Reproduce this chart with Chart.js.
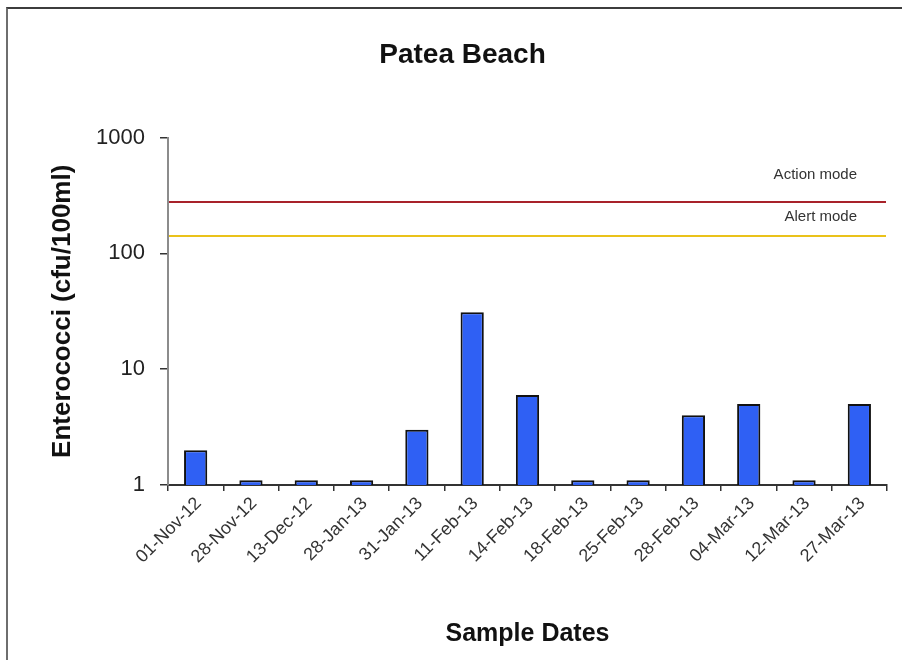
<!DOCTYPE html>
<html>
<head>
<meta charset="utf-8">
<title>Patea Beach</title>
<script src="https://cdn.jsdelivr.net/npm/chart.js@4.4.1/dist/chart.umd.min.js"></script>
<style>
    html, body { margin: 0; padding: 0; background: #fff; }
    #wrap { position: relative; width: 902px; height: 660px; }
    #frame {
        position: absolute; left: 6px; top: 7px; right: 0; bottom: 0;
        border-top: 2px solid #3c3c3c; border-left: 2px solid #6e6e6e;
        pointer-events: none;
    }
    canvas { position: absolute; left: 0; top: 0; }
</style>
</head>
<body>
<div id="wrap">
    <canvas id="beach-chart" width="902" height="660"></canvas>
    <div id="frame"></div>
</div>
<script>
// sample dates and enterococci counts (cfu/100ml)
const sampleDates = ['01-Nov-12', '28-Nov-12', '13-Dec-12', '28-Jan-13', '31-Jan-13', '11-Feb-13', '14-Feb-13',
    '18-Feb-13', '25-Feb-13', '28-Feb-13', '04-Mar-13', '12-Mar-13', '27-Mar-13'];
const enterococci = [2, 1.1, 1.1, 1.1, 3, 31, 6, 1.1, 1.1, 4, 5, 1.1, 5];
const yTicks = [1, 10, 100, 1000];

// guideline levels
const modeLevels = [280, 140];
const modeLabels = ['Action mode', 'Alert mode'];
const modeColors = ['#a8222a', '#eac21a'];

const FONT = "'Liberation Sans', Arial, sans-serif";

// draws the action / alert lines across the plot, label sits above each line
const labelLift = [27, 19];
const modeLines = {
    id: 'modeLines',
    afterDatasetsDraw(chart) {
        const { ctx, chartArea, scales: { y } } = chart;
        ctx.save();
        modeLevels.forEach((level, i) => {
            const py = Math.round(y.getPixelForValue(level));
            ctx.strokeStyle = modeColors[i];
            ctx.lineWidth = 2;
            ctx.beginPath();
            ctx.moveTo(chartArea.left + 1, py);
            ctx.lineTo(chartArea.right - 1, py);
            ctx.stroke();

            ctx.fillStyle = '#333';
            ctx.font = '15px ' + FONT;
            ctx.textAlign = 'right';
            ctx.textBaseline = 'middle';
            ctx.fillText(modeLabels[i], chartArea.right - 30, py - labelLift[i]);
        });
        ctx.restore();
    }
};

const ctx = document.getElementById('beach-chart');
new Chart(ctx, {
    type: 'bar',
    data: {
        labels: sampleDates,
        datasets: [{
            label: 'Enterococci',
            data: enterococci,
            backgroundColor: '#2f60f4',
            borderColor: '#111',
            borderWidth: 2,
            borderSkipped: 'bottom',
            barPercentage: 0.42,
            categoryPercentage: 1
        }]
    },
    options: {
        responsive: false,
        animation: false,
        layout: { padding: { left: 38, right: 15, top: 0, bottom: 0 } },
        plugins: {
            legend: { display: false },
            tooltip: { enabled: false },
            title: {
                display: true,
                text: 'Patea Beach',
                color: '#111',
                font: { family: FONT, size: 28, weight: 'bold' },
                padding: { top: 38, bottom: 66 }
            }
        },
        scales: {
            x: {
                grid: { drawOnChartArea: false, offset: true, tickLength: 6, color: '#333', lineWidth: 1.5 },
                border: { color: '#333', width: 2 },
                ticks: {
                    autoSkip: false,
                    minRotation: 45,
                    maxRotation: 45,
                    padding: 2,
                    labelOffset: 3,
                    color: '#333',
                    font: { family: FONT, size: 18 }
                },
                title: {
                    display: true,
                    text: 'Sample Dates',
                    color: '#111',
                    font: { family: FONT, size: 25, weight: 'bold' },
                    padding: { top: 0, bottom: 11 }
                },
                afterFit(scale) { scale.height = 175; }
            },
            y: {
                type: 'logarithmic',
                min: 1,
                max: 1000,
                grid: { drawOnChartArea: false, tickLength: 8, color: '#333', lineWidth: 1.5 },
                border: { color: '#8c8c8c', width: 2 },
                afterBuildTicks(scale) {
                    scale.ticks = yTicks.map(v => ({ value: v }));
                },
                ticks: {
                    padding: 15,
                    color: '#222',
                    font: { family: FONT, size: 22 },
                    callback: v => String(v)
                },
                title: {
                    display: true,
                    text: 'Enterococci (cfu/100ml)',
                    color: '#111',
                    font: { family: FONT, size: 26, weight: 'bold' },
                    padding: { top: 9, bottom: 0 }
                },
                afterFit(scale) { scale.width = 130; }
            }
        }
    },
    plugins: [modeLines]
});
</script>
</body>
</html>
